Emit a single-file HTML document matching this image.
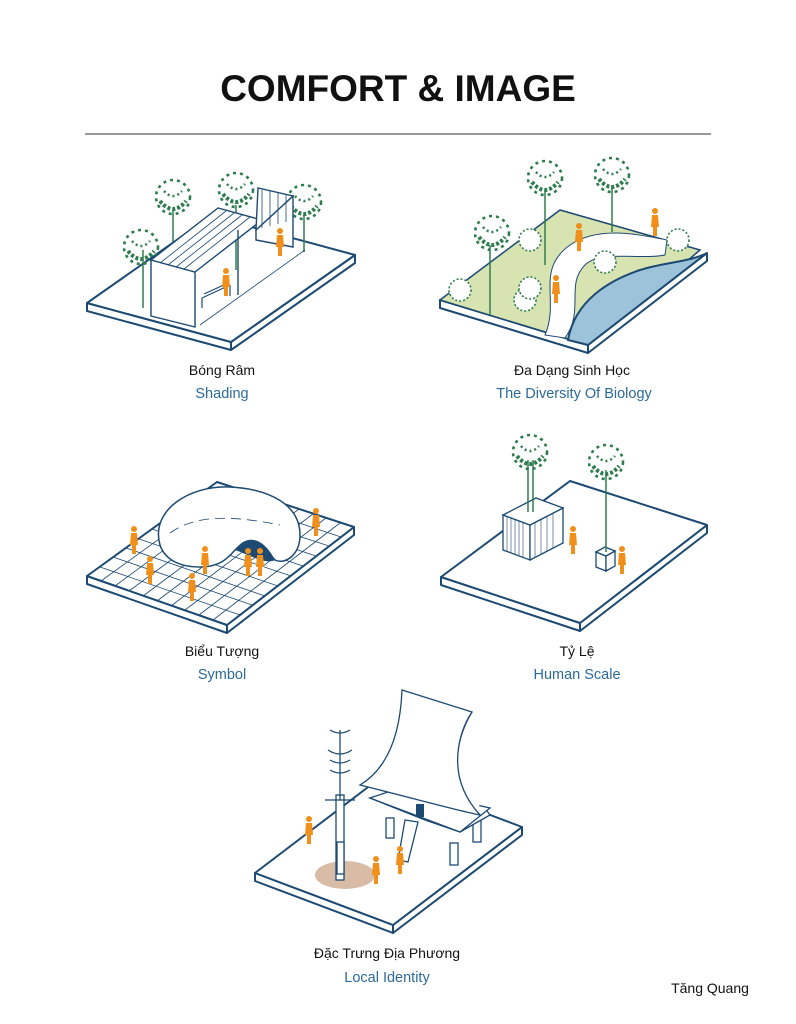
<!DOCTYPE html>
<html><head><meta charset="utf-8">
<style>
html,body{margin:0;padding:0;background:#fff;}
body{width:796px;height:1024px;overflow:hidden;position:relative;font-family:"Liberation Sans","DejaVu Sans",sans-serif;}
svg{position:absolute;left:0;top:0;}
</style></head><body>
<svg width="796" height="1024" viewBox="0 0 796 1024" xmlns="http://www.w3.org/2000/svg">
<defs>
<g id="tree">
 <circle cx="0" cy="0" r="17" fill="none" stroke="#2f7d4f" stroke-width="2.6" stroke-dasharray="3 4"/>
 <path d="M-13 4 Q0 20 13 4" fill="none" stroke="#2f7d4f" stroke-width="4" stroke-dasharray="3 2"/>
 <path d="M-9 -6 Q0 4 9 -6" fill="none" stroke="#2f7d4f" stroke-width="2.5" stroke-dasharray="2 3"/>
</g>
<g id="bush">
 <circle cx="0" cy="0" r="11" fill="#fff" stroke="#2f7d4f" stroke-width="1.6" stroke-dasharray="2 2"/>
</g>
<g id="man">
 <circle cx="0" cy="-19" r="3" fill="#f0901a"/>
 <path d="M-3 -15 L3 -15 L4 -3 L2 -3 L2 6 L-2 6 L-2 -3 L-4 -3 Z" fill="#f0901a"/>
</g>
</defs>

<text x="398" y="101" text-anchor="middle" font-size="37" font-weight="bold" fill="#111" font-family="Liberation Sans, sans-serif">COMFORT &amp; IMAGE</text>
<line x1="85" y1="134" x2="711" y2="134" stroke="#333" stroke-width="1"/>

<!-- Panel 1 Shading -->
<g stroke="#1d4a72" stroke-width="2" fill="#fff" stroke-linejoin="round">
 <path d="M87 303 L231 342 L231 350 L87 311 Z"/>
 <path d="M231 342 L355 255 L355 263 L231 350 Z"/>
 <path d="M87 303 L211 216 L355 255 L231 342 Z"/>
</g>
<g stroke="#2f7d4f" stroke-width="1.5">
 <line x1="143" y1="250" x2="143" y2="308"/><line x1="173" y1="210" x2="173" y2="255"/>
 <line x1="236" y1="205" x2="236" y2="270"/><line x1="304" y1="215" x2="304" y2="252"/>
</g>
<use href="#tree" x="141" y="247"/><use href="#tree" x="173" y="197"/><use href="#tree" x="236" y="190"/><use href="#tree" x="304" y="202"/>
<g stroke="#1d4a72" stroke-width="1.4" fill="#fff">
 <path d="M151 260 L195 272 L195 327 L151 316 Z"/>
 <path d="M151 260 L218 208 L262 220 L195 272 Z"/>
 <path d="M256 230 L293 196 L293 247 L256 240 Z"/>
 <path d="M256 230 L258 188 L293 196 Z"/>
 <line x1="238" y1="230" x2="238" y2="295"/>
</g>
<g stroke="#1d4a72" stroke-width="0.8">
 <line x1="160" y1="263" x2="226" y2="211"/><line x1="168" y1="265" x2="234" y2="213"/><line x1="176" y1="267" x2="242" y2="215"/><line x1="184" y1="269" x2="250" y2="217"/>
 <line x1="262" y1="190" x2="262" y2="228"/><line x1="270" y1="191" x2="270" y2="226"/><line x1="278" y1="193" x2="278" y2="224"/><line x1="286" y1="195" x2="286" y2="222"/>
 <line x1="200" y1="325" x2="305" y2="250"/>
</g>
<g stroke="#1d4a72" stroke-width="1.2" fill="none"><path d="M202 298 L230 285 M202 298 L202 308 M230 285 L230 296 M204 294 L228 283"/></g>
<use href="#man" x="226" y="290"/><use href="#man" x="280" y="250"/>
<text x="222" y="375" text-anchor="middle" font-size="14" fill="#111">Bóng Râm</text>
<text x="222" y="398" text-anchor="middle" font-size="14.5" fill="#2c6a9a">Shading</text>

<!-- Panel 2 Biology -->
<g stroke="#1d4a72" stroke-width="2" fill="#fff" stroke-linejoin="round">
 <path d="M440 300 L588 345 L588 353 L440 308 Z"/>
 <path d="M588 345 L707 253 L707 261 L588 353 Z"/>
</g>
<path d="M440 300 L560 210 L700 250 L588 345 Z" fill="#d8e3b2" stroke="#1d4a72" stroke-width="1.5"/>
<path d="M568 340 C575 300 610 280 640 270 C665 262 690 262 707 253 L588 345 Z" fill="#9cc3da" stroke="#1d4a72" stroke-width="2"/>
<path d="M545 335 C560 300 535 270 570 245 C600 225 640 235 667 240 L665 255 C640 260 600 250 585 265 C565 285 585 310 565 338 Z" fill="#fff" stroke="#1d4a72" stroke-width="1"/>
<g stroke="#2f7d4f" stroke-width="1.5"><line x1="545" y1="190" x2="545" y2="265"/><line x1="612" y1="185" x2="612" y2="232"/><line x1="490" y1="245" x2="490" y2="315"/></g>
<use href="#tree" x="545" y="178"/><use href="#tree" x="612" y="175"/><use href="#tree" x="492" y="233"/>
<use href="#bush" x="460" y="290"/><use href="#bush" x="525" y="300"/><use href="#bush" x="530" y="288"/><use href="#bush" x="605" y="262"/><use href="#bush" x="678" y="240"/><use href="#bush" x="530" y="240"/>
<use href="#man" x="556" y="297"/><use href="#man" x="579" y="245"/><use href="#man" x="655" y="230"/>
<text x="572" y="375" text-anchor="middle" font-size="14" fill="#111">Đa Dạng Sinh Học</text>
<text x="574" y="398" text-anchor="middle" font-size="14.5" fill="#2c6a9a">The Diversity Of Biology</text>

<!-- Panel 3 Symbol -->
<g stroke="#1d4a72" stroke-width="2" fill="#fff" stroke-linejoin="round">
 <path d="M87 576 L227 625 L227 633 L87 584 Z"/>
 <path d="M227 625 L354 527 L354 535 L227 633 Z"/>
 <path d="M87 576 L217 482 L354 527 L227 625 Z"/>
</g>
<g stroke="#1d4a72" stroke-width="0.8">
 <line x1="101" y1="581" x2="231" y2="487"/><line x1="115" y1="586" x2="244" y2="491"/><line x1="129" y1="591" x2="258" y2="496"/><line x1="143" y1="596" x2="272" y2="500"/><line x1="157" y1="601" x2="285" y2="505"/><line x1="171" y1="606" x2="299" y2="509"/><line x1="185" y1="610" x2="313" y2="514"/><line x1="199" y1="615" x2="326" y2="518"/><line x1="213" y1="620" x2="340" y2="523"/>
 <line x1="100" y1="567" x2="240" y2="615"/><line x1="113" y1="557" x2="252" y2="605"/><line x1="126" y1="548" x2="265" y2="596"/><line x1="139" y1="539" x2="278" y2="586"/><line x1="152" y1="529" x2="291" y2="576"/><line x1="165" y1="520" x2="303" y2="566"/><line x1="178" y1="510" x2="316" y2="556"/><line x1="191" y1="501" x2="329" y2="546"/><line x1="204" y1="491" x2="341" y2="537"/>
</g>
<path d="M160 545 C150 510 190 485 230 487 C270 489 300 505 300 535 C300 555 285 565 275 560 C262 545 245 538 235 550 C228 558 220 567 200 567 C180 567 165 560 160 545 Z" fill="#fff" stroke="#1d4a72" stroke-width="1.5"/>
<path d="M235 550 C245 535 262 535 275 560 C265 565 250 555 235 550 Z" fill="#1d4a72"/>
<g fill="none" stroke="#1d4a72" stroke-width="0.8" stroke-dasharray="10 6"><path d="M170 533 C195 515 230 515 280 525"/></g>
<use href="#man" x="134" y="548"/><use href="#man" x="150" y="578"/><use href="#man" x="192" y="595"/><use href="#man" x="205" y="568"/><use href="#man" x="260" y="570"/><use href="#man" x="316" y="530"/><use href="#man" x="248" y="570"/>
<text x="222" y="656" text-anchor="middle" font-size="14" fill="#111">Biểu Tượng</text>
<text x="222" y="679" text-anchor="middle" font-size="14.5" fill="#2c6a9a">Symbol</text>

<!-- Panel 4 Human Scale -->
<g stroke="#1d4a72" stroke-width="2" fill="#fff" stroke-linejoin="round">
 <path d="M441 577 L580 623 L580 631 L441 585 Z"/>
 <path d="M580 623 L707 525 L707 533 L580 631 Z"/>
 <path d="M441 577 L570 481 L707 525 L580 623 Z"/>
</g>
<g stroke="#1d4a72" stroke-width="1.3" fill="#fff">
 <path d="M503 515 L530 525 L530 560 L503 550 Z"/><path d="M530 525 L563 508 L563 543 L530 560 Z"/><path d="M503 515 L536 498 L563 508 L530 525 Z"/>
 <path d="M596 552 L606 556 L606 571 L596 567 Z"/><path d="M606 556 L615 551 L615 566 L606 571 Z"/><path d="M596 552 L605 547 L615 551 L606 556 Z"/>
</g>
<g stroke="#1d4a72" stroke-width="0.6"><line x1="507" y1="517" x2="507" y2="552"/><line x1="511" y1="518" x2="511" y2="553"/><line x1="515" y1="520" x2="515" y2="555"/><line x1="519" y1="521" x2="519" y2="556"/><line x1="523" y1="523" x2="523" y2="558"/><line x1="535" y1="522" x2="535" y2="557"/><line x1="541" y1="519" x2="541" y2="554"/><line x1="547" y1="516" x2="547" y2="551"/><line x1="553" y1="513" x2="553" y2="548"/></g>
<g stroke="#2f7d4f" stroke-width="1.5"><line x1="528" y1="460" x2="528" y2="512"/><line x1="533" y1="460" x2="533" y2="512"/><line x1="606" y1="470" x2="606" y2="552"/></g>
<use href="#tree" x="530" y="452"/><use href="#tree" x="606" y="462"/>
<use href="#man" x="573" y="548"/><use href="#man" x="622" y="568"/>
<text x="577" y="656" text-anchor="middle" font-size="14" fill="#111">Tỷ Lệ</text>
<text x="577" y="679" text-anchor="middle" font-size="14.5" fill="#2c6a9a">Human Scale</text>

<!-- Panel 5 Local Identity -->
<g stroke="#1d4a72" stroke-width="2" fill="#fff" stroke-linejoin="round">
 <path d="M255 873 L393 925 L393 933 L255 881 Z"/>
 <path d="M393 925 L522 827 L522 835 L393 933 Z"/>
 <path d="M255 873 L384 775 L522 827 L393 925 Z"/>
</g>
<ellipse cx="345" cy="875" rx="30" ry="14" fill="#d9bca6"/>
<g stroke="#1d4a72" stroke-width="1.3" fill="#fff">
 <rect x="386" y="818" width="8" height="20"/><rect x="450" y="843" width="8" height="22"/><rect x="473" y="818" width="8" height="24"/>
 <path d="M370 798 L425 820 L460 832 L490 815 L485 808 L460 820 L380 795 Z"/>
 <path d="M370 798 L400 788 L490 808 L460 832 Z"/>
 <path d="M405 820 L418 822 L408 862 L398 860 Z"/>
 <path d="M360 785 C385 770 400 740 402 690 L472 712 C460 730 445 770 480 815 C455 810 420 800 360 785 Z"/>
 <path d="M472 712 C455 740 448 780 480 815"/>
 <rect x="336" y="795" width="8" height="85"/>
 <rect x="337" y="842" width="7" height="32"/>
</g>
<rect x="416" y="804" width="8" height="13" fill="#1d4a72"/>
<g stroke="#1d4a72" stroke-width="1.3" fill="none">
 <line x1="340" y1="730" x2="340" y2="800"/>
 <path d="M330 730 Q340 736 350 730 M328 750 Q340 758 352 750 M330 760 Q340 766 350 760 M330 770 Q340 776 350 770"/>
 <path d="M325 800 L355 800"/>
</g>
<use href="#man" x="309" y="838"/><use href="#man" x="376" y="878"/><use href="#man" x="400" y="868"/>
<text x="387" y="958" text-anchor="middle" font-size="14" fill="#111">Đặc Trưng Địa Phương</text>
<text x="387" y="982" text-anchor="middle" font-size="14.5" fill="#2c6a9a">Local Identity</text>
<text x="710" y="993" text-anchor="middle" font-size="14" fill="#111">Tăng Quang</text>
</svg>
</body></html>
